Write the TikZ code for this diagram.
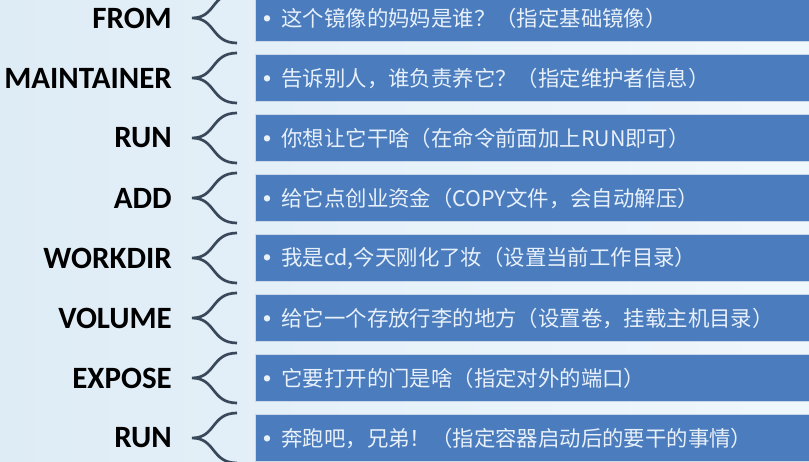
\documentclass[tikz,border=0pt]{standalone}
\usepackage{fontspec}
\newfontfamily\cjk{Noto Sans CJK SC}
\newfontfamily\cmdfont{Carlito}
\definecolor{barblue}{RGB}{74,124,190}
\definecolor{bartext}{RGB}{232,240,250}
\definecolor{bracegray}{RGB}{58,72,92}
\definecolor{bgleft}{RGB}{222,236,246}
\definecolor{bgright}{RGB}{240,247,252}
\usetikzlibrary{calc}
\tikzset{
  cmd/.style={anchor=east,inner sep=0pt,text=black,
        font=\cmdfont\bfseries\fontsize{31}{31}\selectfont},
  bar/.style={anchor=west,fill=barblue,draw=white!70!barblue,line width=1pt,
        minimum height=47pt,text width=538pt,inner xsep=8pt,align=left,
        text=bartext,font=\cjk\fontsize{21.4}{23}\selectfont},
  brace/.style={draw=bracegray,line width=2.7pt},
}
% curly brace in front of a bar
\newcommand\cmdbrace[1]{%
  \draw[brace] ($(#1.west)+(-18,25)$) .. controls +(-26,0) and +(24,0) ..
        ($(#1.west)+(-63,0)$) .. controls +(24,0) and +(-26,0) ..
        ($(#1.west)+(-18,-25)$);}
\newcommand\bul{{\fontsize{7}{7}\selectfont\raisebox{4.5pt}{●}}\hspace{11pt}}

\begin{document}
\begin{tikzpicture}[x=1pt,y=1pt]
  % background
  \useasboundingbox (0,0) rectangle (809,-462);
  \shade[left color=bgleft,right color=bgright] (0,0) rectangle (809,-462);

  % FROM
  \node[cmd] (c1) at (172,-18) {FROM};
  \node[bar] (b1) at (255,-18) {\bul 这个镜像的妈妈是谁？（指定基础镜像）};
  \cmdbrace{b1}

  % MAINTAINER
  \node[cmd] (c2) at (172,-78) {MAINTAINER};
  \node[bar] (b2) at (255,-78) {\bul 告诉别人，谁负责养它？（指定维护者信息）};
  \cmdbrace{b2}

  % RUN
  \node[cmd] (c3) at (172,-138) {RUN};
  \node[bar] (b3) at (255,-138) {\bul 你想让它干啥（在命令前面加上RUN即可）};
  \cmdbrace{b3}

  % ADD
  \node[cmd] (c4) at (172,-198) {ADD};
  \node[bar] (b4) at (255,-198) {\bul 给它点创业资金（COPY文件，会自动解压）};
  \cmdbrace{b4}

  % WORKDIR
  \node[cmd] (c5) at (172,-258) {WORKDIR};
  \node[bar] (b5) at (255,-258) {\bul 我是cd,今天刚化了妆（设置当前工作目录）};
  \cmdbrace{b5}

  % VOLUME
  \node[cmd] (c6) at (172,-318) {VOLUME};
  \node[bar] (b6) at (255,-318) {\bul 给它一个存放行李的地方（设置卷，挂载主机目录）};
  \cmdbrace{b6}

  % EXPOSE
  \node[cmd] (c7) at (172,-378) {EXPOSE};
  \node[bar] (b7) at (255,-378) {\bul 它要打开的门是啥（指定对外的端口）};
  \cmdbrace{b7}

  % RUN (start)
  \node[cmd] (c8) at (172,-438) {RUN};
  \node[bar] (b8) at (255,-438) {\bul 奔跑吧，兄弟！（指定容器启动后的要干的事情）};
  \cmdbrace{b8}
\end{tikzpicture}
\end{document}
